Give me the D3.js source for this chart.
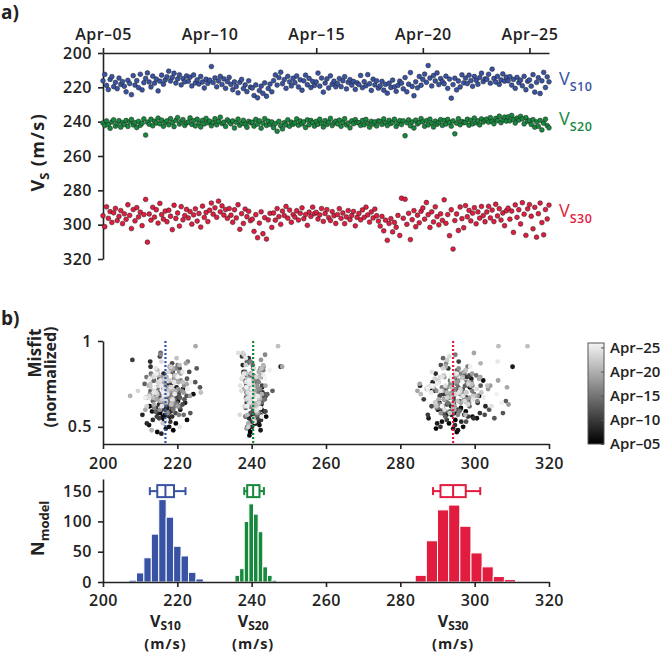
<!DOCTYPE html>
<html>
<head>
<meta charset="utf-8">
<script src="https://cdn.jsdelivr.net/npm/d3@7"></script>
<style>
body { margin: 0; background: #fff; }
svg { display: block; font-family: "Open Sans", sans-serif; }
.axis path, .axis line { stroke: #222; stroke-width: 1.6; }
.axis text { font-family: "Open Sans", sans-serif; font-size: 16px; font-weight: 600; fill: #222; letter-spacing: 0.5px; }
.lbl { font-weight: 700; fill: #222; }
</style>
</head>
<body>
<svg id="fig" width="666" height="653"></svg>
<script>
// Vs values every 2 hours from Apr-05 00:00 (one row = one day)
const vs10 = [
  216.2,212.5,218.9,221.3,215.4,213.8,219.6,217.1,220.8,214.6,218.3,216.7,
  219.4,222.6,215.9,217.8,224.3,213.2,218.7,216.1,220.2,212.4,221.5,217.3,
  214.8,211.6,216.9,219.8,213.5,217.6,215.2,222.1,216.4,212.9,218.2,215.7,
  213.9,210.6,216.3,214.2,211.8,217.5,215.1,212.7,218.6,214.9,216.8,213.4,
  216.5,214.1,219.2,212.8,217.4,215.6,218.1,213.7,216.9,220.4,215.3,217.7,
  215.8,207.9,217.2,214.5,219.7,216.3,213.6,218.4,215.1,220.6,216.7,214.2,
  218.3,221.4,216.8,219.5,223.2,217.1,215.4,220.7,218.6,222.5,216.2,219.9,
  220.4,224.8,218.6,226.1,221.9,219.3,223.5,217.4,225.2,220.7,218.1,222.6,
  216.1,212.8,218.7,214.3,211.2,217.9,215.5,220.6,213.6,216.8,219.2,214.7,
  217.3,213.4,219.8,215.6,221.7,216.2,212.9,218.5,214.8,220.1,216.6,218.9,
  216.9,211.7,219.3,214.6,222.8,217.5,215.1,220.4,213.3,218.2,216.4,219.7,
  217.8,214.9,219.6,216.2,213.8,220.9,217.1,215.5,218.7,216.6,221.2,217.4,
  218.4,213.1,220.2,216.7,219.1,212.6,217.9,221.8,215.3,218.6,216.2,220.5,
  219.2,216.5,221.7,218.3,223.4,217.6,220.1,215.8,219.7,222.3,218.9,216.4,
  217.6,220.9,214.3,222.6,218.2,211.4,219.5,224.9,216.8,220.3,213.7,218.8,
  215.4,212.3,217.1,207.3,214.6,219.2,213.1,216.3,211.6,218.4,214.9,216.7,
  217.9,213.5,220.6,215.2,226.3,218.4,214.7,221.5,216.3,219.8,212.7,217.4,
  214.6,217.8,212.9,216.1,219.4,213.7,215.9,218.2,214.3,211.8,216.7,215.1,
  215.3,212.4,217.6,209.4,214.8,216.9,213.6,218.3,215.7,212.2,216.4,214.1,
  216.2,213.8,218.7,215.4,220.6,214.2,217.3,215.8,219.1,213.6,221.4,216.5,
  215.7,219.3,212.6,222.8,217.1,214.4,223.6,216.2,211.3,220.1,213.9,216.8
]
const vs20 = [
  240.8,242.3,239.6,241.7,243.9,240.2,238.9,242.6,241.1,239.4,243.2,240.5,
  241.6,239.3,242.8,240.1,238.7,241.9,240.6,243.4,239.8,242.1,240.9,238.4,
  247.8,240.3,241.5,238.6,242.4,239.7,240.8,237.9,241.2,239.1,242.7,240.4,
  239.5,241.8,238.2,240.6,242.9,239.3,237.6,241.4,240.1,238.8,242.2,240.7,
  240.2,237.8,241.6,239.4,242.5,238.6,240.9,243.1,239.2,241.3,238.1,240.6,
  239.7,242.4,240.5,238.3,241.8,239.9,237.4,241.1,240.3,242.8,238.9,240.1,
  241.2,239.6,243.7,240.4,238.5,242.1,240.8,239.2,241.5,243.3,239.8,240.7,
  240.3,242.6,238.7,241.4,239.5,243.8,240.9,238.2,242.2,239.7,241.6,240.2,
  243.5,241.1,245.6,239.8,242.4,244.2,240.6,241.9,238.9,242.7,240.3,241.5,
  240.7,238.4,242.1,239.6,241.3,240.2,243.4,238.9,241.8,239.3,240.5,242.6,
  239.8,241.5,238.6,240.9,243.1,239.4,241.7,240.2,238.1,242.3,240.6,239.7,
  241.3,239.1,242.7,240.4,238.3,241.9,240.8,243.6,239.5,241.2,238.8,240.5,
  240.6,242.2,239.3,241.8,238.7,240.9,243.2,239.8,241.4,240.1,242.5,239.6,
  239.9,241.6,238.4,240.7,242.3,239.2,241.1,240.3,238.6,242.8,240.8,239.4,
  241.7,239.5,248.2,240.6,238.9,242.4,240.2,243.7,239.1,241.3,240.4,238.2,
  240.1,242.7,239.4,241.9,238.5,240.8,243.1,239.7,241.5,240.3,238.8,242.2,
  239.3,241.4,238.7,240.5,242.6,239.6,247.1,240.9,238.3,241.8,239.9,240.6,
  240.4,238.6,242.1,239.2,241.3,237.9,240.7,239.5,241.9,238.4,240.2,239.1,
  238.5,240.3,237.6,239.8,241.2,238.1,239.4,236.8,240.6,238.9,237.3,239.7,
  237.2,239.5,236.4,238.7,240.8,237.9,239.1,236.9,238.4,241.3,237.6,239.8,
  239.4,241.6,238.8,243.2,240.1,242.7,239.3,244.8,240.9,238.6,242.3,243.6
]
const vs30 = [
  294.8,301.2,289.6,296.3,292.4,298.7,293.1,290.5,297.6,295.2,291.8,299.4,
  293.7,296.9,288.4,294.6,302.3,291.2,297.8,290.1,295.5,292.7,300.6,294.1,
  285.3,310.2,293.8,297.4,289.9,295.6,291.3,299.1,287.6,294.2,296.8,292.1,
  298.3,291.6,295.1,302.9,288.7,296.4,293.2,300.8,289.5,297.2,294.7,291.1,
  296.1,292.4,299.7,294.3,290.8,297.9,293.5,301.4,289.2,295.8,292.9,298.2,
  291.6,287.4,293.9,290.2,295.7,286.3,292.5,289.1,294.4,291.2,296.3,290.6,
  294.5,298.6,291.3,296.1,288.4,302.7,293.6,299.3,290.9,295.4,292.2,297.7,
  296.8,303.9,294.2,307.6,299.1,292.5,305.3,295.9,308.4,297.2,293.4,301.6,
  293.2,297.4,290.6,295.3,299.8,292.1,294.7,289.4,296.2,291.5,298.6,294.1,
  295.6,291.9,297.3,293.4,290.2,296.5,294.1,300.4,292.7,295.2,289.8,293.6,
  292.8,296.7,294.3,290.6,298.1,293.5,291.2,295.9,297.6,292.4,294.8,299.3,
  294.1,290.7,296.3,293.2,299.4,295.5,291.8,297.1,294.6,292.3,300.7,295.8,
  293.5,297.2,291.4,295.7,289.8,294.3,298.5,292.6,296.1,290.9,294.8,297.9,
  300.8,295.2,303.6,297.4,309.1,299.3,296.5,304.2,298.7,301.5,294.6,306.3,
  284.6,296.3,285.2,299.8,293.4,308.7,297.1,291.8,301.2,294.5,298.9,292.2,
  290.3,296.8,287.1,294.2,301.6,292.5,298.4,289.6,295.3,300.1,293.7,297.5,
  285.5,299.2,294.1,306.4,291.3,314.2,297.6,293.8,303.4,289.7,296.5,301.8,
  288.9,295.4,291.7,297.8,293.3,290.1,299.5,292.6,296.2,289.4,294.7,298.3,
  292.6,289.3,296.1,291.5,298.2,288.1,294.9,290.7,297.3,293.2,300.6,291.9,
  290.4,296.8,292.1,304.5,288.5,295.7,291.3,299.6,287.2,293.9,306.2,290.8,
  288.3,295.1,302.4,289.9,307.3,293.6,287.4,298.8,305.9,291.2,296.7,288.6
]

// normalized misfit of each model above (same order)
const misfit10 = [
  .55,.62,.48,.71,.58,.66,.52,.74,.60,.47,.68,.57,
  .63,.54,.76,.50,.69,.59,.82,.56,.65,.51,.72,.61,
  .58,.67,.49,.73,.62,.55,.78,.64,.53,.70,.59,.46,
  .66,.57,.81,.61,.52,.74,.63,.88,.56,.69,.60,.54,
  .72,.59,.64,.85,.57,.68,.53,.77,.62,.70,.91,.58,
  .60,.89,.73,.56,.67,.79,.62,.71,.55,.84,.65,.69,
  .75,.63,.70,.58,.82,.66,.74,.61,.87,.68,.72,.64,
  .69,.76,.61,.73,.66,.80,.58,.71,.84,.67,.63,.78,
  .64,.71,.82,.59,.75,.68,.93,.62,.77,.70,.66,.73,
  .71,.65,.78,.69,.57,.74,.81,.63,.70,.86,.67,.60,
  .68,.79,.62,.72,.88,.65,.74,.57,.80,.69,.76,.63,
  .73,.66,.84,.70,.61,.77,.68,.92,.64,.75,.71,.58,
  .67,.80,.72,.63,.78,.69,.85,.74,.60,.71,.66,.82,
  .76,.64,.70,.83,.68,.73,.62,.79,.71,.87,.65,.74,
  .70,.81,.66,.75,.72,.60,.78,.97,.69,.76,.63,.84,
  .65,.74,.79,.68,.83,.71,.48,.77,.67,.73,.80,.69,
  .72,.67,.86,.74,.70,.63,.81,.76,.68,.90,.75,.71,
  .69,.77,.73,.52,.80,.72,.66,.85,.70,.62,.78,.74,
  .75,.68,.82,.71,.76,.65,.79,.73,.88,.67,.72,.70,
  .71,.80,.66,.77,.50,.84,.69,.62,.76,.70,.82,.68,
  .74,.69,.78,.72,.54,.81,.76,.70,.67,.79,.73,.86
]
const misfit20 = [
  .52,.60,.47,.66,.56,.71,.50,.63,.58,.45,.68,.54,
  .61,.49,.73,.57,.64,.53,.79,.59,.67,.51,.70,.56,
  .85,.62,.55,.74,.48,.66,.58,.81,.52,.69,.60,.57,
  .64,.53,.77,.59,.70,.55,.86,.62,.50,.72,.57,.66,
  .58,.82,.63,.69,.54,.75,.61,.67,.90,.56,.72,.60,
  .70,.57,.65,.79,.62,.53,.91,.68,.59,.74,.64,.71,
  .63,.76,.59,.84,.67,.72,.61,.78,.55,.69,.81,.66,
  .72,.65,.88,.60,.75,.68,.63,.82,.70,.58,.76,.67,
  .66,.79,.71,.62,.84,.69,.74,.58,.77,.64,.86,.70,
  .75,.61,.68,.80,.57,.73,.66,.87,.63,.71,.78,.69,
  .62,.77,.70,.65,.83,.74,.59,.68,.81,.72,.66,.88,
  .71,.64,.79,.67,.56,.76,.70,.92,.62,.74,.68,.80,
  .68,.83,.63,.72,.77,.60,.85,.69,.74,.66,.89,.71,
  .73,.58,.81,.70,.66,.78,.64,.75,.49,.84,.71,.67,
  .65,.76,.85,.62,.71,.80,.68,.74,.52,.79,.63,.72,
  .77,.69,.64,.82,.73,.61,.86,.70,.67,.75,.57,.79,
  .70,.63,.78,.55,.84,.72,.97,.66,.76,.61,.81,.68,
  .74,.81,.67,.71,.59,.92,.69,.77,.64,.86,.72,.50,
  .66,.73,.93,.68,.79,.62,.75,.57,.84,.70,.78,.65,
  .71,.64,.93,.76,.53,.81,.67,.74,.90,.60,.79,.69,
  .75,.68,.62,.80,.72,.56,.77,.83,.66,.73,.61,.78
]
const misfit30 = [
  .54,.68,.49,.61,.57,.73,.52,.64,.59,.47,.66,.56,
  .62,.50,.71,.58,.77,.53,.67,.60,.48,.69,.55,.63,
  .74,.85,.57,.65,.52,.70,.61,.78,.55,.49,.68,.59,
  .66,.58,.72,.62,.76,.53,.69,.64,.81,.57,.51,.70,
  .60,.73,.55,.67,.50,.79,.63,.58,.71,.65,.84,.56,
  .69,.57,.75,.61,.88,.66,.54,.72,.63,.59,.77,.68,
  .65,.80,.58,.70,.62,.57,.74,.67,.86,.60,.71,.53,
  .72,.60,.68,.58,.76,.63,.55,.70,.65,.81,.59,.74,
  .67,.74,.61,.83,.69,.56,.78,.64,.72,.90,.62,.70,
  .73,.59,.66,.77,.63,.71,.58,.80,.68,.75,.61,.69,
  .64,.78,.70,.62,.85,.67,.73,.59,.76,.66,.92,.71,
  .70,.63,.81,.68,.74,.57,.79,.66,.72,.87,.65,.77,
  .75,.67,.62,.84,.71,.78,.64,.73,.69,.58,.80,.66,
  .68,.76,.72,.65,.63,.81,.70,.74,.67,.79,.62,.77,
  .71,.64,.75,.93,.69,.73,.82,.66,.78,.60,.74,.85,
  .66,.79,.72,.61,.87,.70,.76,.63,.80,.68,.73,.57,
  .69,.75,.64,.97,.71,.97,.83,.67,.74,.62,.78,.70,
  .73,.65,.80,.70,.58,.77,.68,.89,.72,.64,.81,.75,
  .67,.78,.71,.84,.63,.74,.69,.79,.65,.91,.72,.60,
  .76,.68,.74,.62,.82,.70,.79,.66,.73,.77,.88,.71,
  .70,.81,.67,.75,.64,.79,.72,.85,.69,.62,.76,.74
]

// histogram counts (10 bins each), bin starts and widths in m/s
const hist10 = [3, 15, 40, 79, 136, 107, 59, 43, 16, 5]
const hist20 = [11, 22, 100, 129, 112, 83, 25, 11, 3, 1]
const hist30 = [11, 68, 119, 127, 92, 48, 25, 9, 4, 1]
const binStarts = [207, 235.5, 284]
const binWidths = [2, 1.25, 3]

// box plots: lower whisker, q1, median, q3, upper whisker
const box10 = [212.6, 214.6, 216.8, 219.1, 222.2]
const box20 = [238.0, 238.8, 240.4, 242.1, 243.3]
const box30 = [288.8, 290.8, 294.2, 297.6, 301.5]

const subNames = ['S10', 'S20', 'S30']
const colors = ['#3953a4', '#17893d', '#e21c3f']
const dateTicks = ['2016-04-05', '2016-04-10', '2016-04-15', '2016-04-20', '2016-04-25']
const vsTicks = [200, 220, 240, 260, 280, 300, 320]
const misfitTicks = [0.5, 1]
const countTicks = [0, 50, 100, 150]

const series = [
  { vs: vs10, mf: misfit10, hist: hist10, box: box10 },
  { vs: vs20, mf: misfit20, hist: hist20, box: box20 },
  { vs: vs30, mf: misfit30, hist: hist30, box: box30 }
]
series.forEach((s, k) => {
  s.name = subNames[k]
  s.color = colors[k]
  s.binStart = binStarts[k]
  s.binWidth = binWidths[k]
})

let svg = d3.select('#fig')
let parseDay = d3.timeParse('%Y-%m-%d')
let t0 = parseDay(dateTicks[0])
let timeOf = i => new Date(t0.getTime() + i * 2 * 3600e3)
let tEnd = timeOf(vs10.length - 1)

// ---------- panel a ----------
let xTime = d3.scaleTime().domain([t0, tEnd]).range([103, 549])
let yVs = d3.scaleLinear().domain([200, 320]).range([53, 259])

svg.append('g').attr('class', 'axis')
   .attr('transform', 'translate(0,53)')
   .call(d3.axisTop(xTime)
      .tickValues(dateTicks.map(parseDay))
      .tickFormat(d3.timeFormat('%b–%d'))
      .tickSize(5).tickSizeOuter(0).tickPadding(8))

svg.append('g').attr('class', 'axis')
   .attr('transform', 'translate(103,0)')
   .call(d3.axisLeft(yVs).tickValues(vsTicks)
      .tickSize(5).tickSizeOuter(0).tickPadding(6))

series.forEach(s => {
  svg.append('g').selectAll('circle')
     .data(s.vs)
     .enter()
     .append('circle')
     .attr('cx', (d, i) => xTime(timeOf(i)))
     .attr('cy', d => yVs(d))
     .attr('r', 2.4)
     .attr('fill', s.color)
     .attr('stroke', '#1c1c1c')
     .attr('stroke-width', 0.5)
})

// series names at the right
let nameY = [85, 125, 217]
series.forEach((s, k) => {
  let t = svg.append('text').attr('x', 559).attr('y', nameY[k])
             .attr('fill', s.color).style('font-size', '18px')
  t.append('tspan').text('V')
  t.append('tspan').attr('dy', 6).style('font-size', '12.5px')
   .style('font-weight', 600).style('letter-spacing', '0.5px').text(s.name)
})

// y label
let yl = svg.append('text').attr('class', 'lbl')
            .attr('transform', 'translate(44,152) rotate(-90)')
            .attr('text-anchor', 'middle').style('font-size', '18px')
yl.append('tspan').text('V')
yl.append('tspan').attr('dy', 5).style('font-size', '13px').text('S')
yl.append('tspan').attr('dy', -5).style('letter-spacing', '1.5px').text(' (m/s)')

svg.append('text').attr('class', 'lbl').attr('x', 1).attr('y', 19)
   .style('font-size', '19px').text('a)')
svg.append('text').attr('class', 'lbl').attr('x', 1).attr('y', 325)
   .style('font-size', '19px').text('b)')

// ---------- panel b, misfit ----------
let xB = d3.scaleLinear().domain([200, 320]).range([103, 549])
let yMf = d3.scaleLinear().domain([0.4, 1]).range([444, 341])
let gray = d3.scaleLinear().domain([t0, tEnd]).range(['#000000', '#f4f4f4'])

svg.append('g').attr('class', 'axis')
   .attr('transform', 'translate(0,444)')
   .call(d3.axisBottom(xB).tickValues(vsTicks)
      .tickSize(5).tickSizeOuter(0).tickPadding(9))

svg.append('g').attr('class', 'axis')
   .attr('transform', 'translate(103,0)')
   .call(d3.axisLeft(yMf).tickValues(misfitTicks)
      .tickFormat(d => d === 1 ? '1' : '0.5')
      .tickSize(5).tickSizeOuter(0).tickPadding(6))

series.forEach(s => {
  svg.append('g').selectAll('circle')
     .data(s.vs)
     .enter()
     .append('circle')
     .attr('cx', d => xB(d))
     .attr('cy', (d, i) => yMf(s.mf[i]))
     .attr('r', 2.4)
     .attr('fill', (d, i) => gray(timeOf(i)))
})

series.forEach(s => {
  svg.append('line')
     .attr('x1', xB(s.box[2])).attr('x2', xB(s.box[2]))
     .attr('y1', yMf(1)).attr('y2', yMf(0.4))
     .attr('stroke', s.color).attr('stroke-width', 2.2)
     .attr('stroke-dasharray', '2,2')
})

let mfl = svg.append('g').attr('class', 'lbl').style('font-size', '17px')
mfl.append('text').attr('transform', 'translate(41,353) rotate(-90)')
   .attr('text-anchor', 'middle').text('Misfit')
mfl.append('text').attr('transform', 'translate(56,377) rotate(-90)')
   .attr('text-anchor', 'middle').style('font-size', '16px').text('(normalized)')

// colorbar
let yCb = d3.scaleTime().domain([t0, tEnd]).range([444, 343])
let grad = svg.append('defs').append('linearGradient').attr('id', 'cb')
              .attr('x1', 0).attr('x2', 0).attr('y1', 1).attr('y2', 0)
grad.append('stop').attr('offset', '0%').attr('stop-color', gray(t0))
grad.append('stop').attr('offset', '100%').attr('stop-color', gray(tEnd))
svg.append('rect').attr('x', 588).attr('y', 343).attr('width', 16).attr('height', 101)
   .attr('fill', 'url(#cb)').attr('stroke', '#555').attr('stroke-width', 1)
let cbAxis = svg.append('g').attr('class', 'axis')
   .attr('transform', 'translate(604,0)')
   .call(d3.axisRight(yCb).tickValues(dateTicks.map(parseDay))
      .tickFormat(d3.timeFormat('%b–%d'))
      .tickSize(-3).tickSizeOuter(0).tickPadding(6))
cbAxis.select('.domain').remove()
cbAxis.selectAll('line').style('stroke-width', 1).style('stroke', '#555')
cbAxis.selectAll('text').style('font-size', '15px').style('letter-spacing', '0px')

// ---------- panel b, histograms ----------
let yH = d3.scaleLinear().domain([0, 170]).range([582, 479])

series.forEach(s => {
  svg.append('g').selectAll('rect')
     .data(s.hist)
     .enter()
     .append('rect')
     .attr('x', (d, i) => xB(s.binStart + i * s.binWidth))
     .attr('width', xB(200 + s.binWidth) - xB(200))
     .attr('y', d => yH(d))
     .attr('height', d => yH(0) - yH(d))
     .attr('fill', s.color)
     .attr('stroke', '#fff')
     .attr('stroke-width', 1)
})

svg.append('g').attr('class', 'axis')
   .attr('transform', 'translate(0,582)')
   .call(d3.axisBottom(xB).tickValues(vsTicks)
      .tickSize(5).tickSizeOuter(0).tickPadding(8))

svg.append('g').attr('class', 'axis')
   .attr('transform', 'translate(103,0)')
   .call(d3.axisLeft(yH).tickValues(countTicks)
      .tickSize(5).tickSizeOuter(0).tickPadding(6))

// box plots above the histograms
let boxY = yH(150)
series.forEach(s => {
  let g = svg.append('g').attr('stroke', s.color).attr('stroke-width', 2).attr('fill', '#fff')
  let b = s.box.map(xB)
  g.append('line').attr('x1', b[0]).attr('x2', b[1]).attr('y1', boxY).attr('y2', boxY)
  g.append('line').attr('x1', b[3]).attr('x2', b[4]).attr('y1', boxY).attr('y2', boxY)
  g.append('line').attr('x1', b[0]).attr('x2', b[0]).attr('y1', boxY - 4).attr('y2', boxY + 4)
  g.append('line').attr('x1', b[4]).attr('x2', b[4]).attr('y1', boxY - 4).attr('y2', boxY + 4)
  g.append('rect').attr('x', b[1]).attr('y', boxY - 6).attr('width', b[3] - b[1]).attr('height', 12)
  g.append('line').attr('x1', b[2]).attr('x2', b[2]).attr('y1', boxY - 6).attr('y2', boxY + 6)
})

// N_model label
let nl = svg.append('text').attr('class', 'lbl')
            .attr('transform', 'translate(44,556) rotate(-90)')
            .style('font-size', '18px')
nl.append('tspan').text('N')
nl.append('tspan').attr('dy', 5).style('font-size', '13px').text('model')

// bottom labels under each histogram
series.forEach(s => {
  let cx = xB(s.box[2])
  let t = svg.append('text').attr('class', 'lbl').attr('x', cx).attr('y', 627)
             .attr('text-anchor', 'middle').style('font-size', '16px')
  t.append('tspan').text('V')
  t.append('tspan').attr('dy', 3).style('font-size', '12px').text(s.name)
  svg.append('text').attr('class', 'lbl').attr('x', cx).attr('y', 649)
     .attr('text-anchor', 'middle').style('font-size', '14.5px')
     .style('letter-spacing', '1px').text('(m/s)')
})
</script>
</body>
</html>
